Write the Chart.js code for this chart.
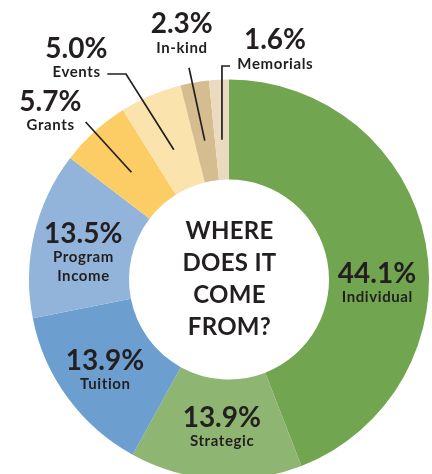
<!DOCTYPE html>
<html><head><meta charset="utf-8">
<script src="https://cdn.jsdelivr.net/npm/chart.js@4/dist/chart.umd.min.js"></script>
<style>html,body{margin:0;padding:0;background:#fff;overflow:hidden;width:432px;height:474px}canvas{display:block}</style>
</head><body>
<canvas id="c" width="432" height="480"></canvas>
<script>
// ---- data ----
const categories = ['Individual','Strategic','Tuition','Program Income','Grants','Events','In-kind','Memorials'];
const shares = [44.1, 13.9, 13.9, 13.5, 5.7, 5.0, 2.3, 1.6];
const percentLabels = ['44.1%','13.9%','13.9%','13.5%','5.7%','5.0%','2.3%','1.6%'];
const nameLines = [['Individual'],['Strategic'],['Tuition'],['Program','Income'],['Grants'],['Events'],['In-kind'],['Memorials']];
const sliceColors = ['#71a54f','#8eb572','#6c9fcf','#93b4da','#fdcd65','#fbe3ad','#d5bd90','#eadac0'];
const centerTitle = ['WHERE','DOES IT','COME','FROM?'];

// ---- label layout (relative to chart centre, in units of outer radius) ----
const labelLayout = [
  {pos:[0.74, 0.0175]},
  {pos:[-0.036, 0.736]},
  {pos:[-0.62, 0.4525]},
  {pos:[-0.729, -0.184]},
  {pos:[-0.8935, -0.8425], leader:[{mid:0.725},{mid:1.065}]},
  {pos:[-0.7635, -1.109], leader:[{mid:0.705},{x:-0.515,y:-1.0275},{x:-0.6085,y:-1.0275}]},
  {pos:[-0.2365, -1.231], leader:[{mid:0.705},{x:-0.20,y:-1.059}]},
  {pos:[0.23, -1.151], leader:[{mid:0.70},{y:-1.0675},{x:0.005,y:-1.0675}]}
];
const ink = '#231f20';
const FAM = 'Lato, "Open Sans", sans-serif';

const labelPlugin = {
  id: 'sliceLabels',
  afterDatasetsDraw(chart) {
    const ctx = chart.ctx;
    const arcs = chart.getDatasetMeta(0).data;
    const cx = arcs[0].x, cy = arcs[0].y, R = arcs[0].outerRadius;
    ctx.save();
    ctx.fillStyle = ink; ctx.strokeStyle = ink; ctx.lineWidth = 1.7;
    ctx.lineCap = 'butt'; ctx.lineJoin = 'miter';
    ctx.textAlign = 'center'; ctx.textBaseline = 'alphabetic';
    arcs.forEach((arc, i) => {
      const L = labelLayout[i];
      const px = cx + L.pos[0] * R, py = cy + L.pos[1] * R;
      ctx.letterSpacing = '0px';
      ctx.font = 'bold 28px ' + FAM;
      ctx.fillText(percentLabels[i], px, py);
      ctx.font = 'bold 15px ' + FAM;
      ctx.letterSpacing = '0.6px';
      nameLines[i].forEach((t, k) => ctx.fillText(t, px + 0.3, py + 19.3 + k * 19));
      if (L.leader) {
        const mid = (arc.startAngle + arc.endAngle) / 2;
        let prev = null;
        ctx.beginPath();
        L.leader.forEach((p, k) => {
          let x, y;
          if (p.mid !== undefined) { x = cx + Math.cos(mid) * p.mid * R; y = cy + Math.sin(mid) * p.mid * R; }
          else if (p.x === undefined) { x = prev[0]; y = cy + p.y * R; }
          else { x = cx + p.x * R; y = cy + p.y * R; }
          if (k === 0) ctx.moveTo(x, y); else ctx.lineTo(x, y);
          prev = [x, y];
        });
        ctx.stroke();
      }
    });
    ctx.letterSpacing = '0.3px';
    ctx.font = 'bold 24px ' + FAM;
    centerTitle.forEach((t, k) => ctx.fillText(t, cx + 0.5, cy - 40.2 + k * 31.8));
    ctx.restore();
  }
};

new Chart(document.getElementById('c'), {
  type: 'doughnut',
  data: {
    labels: categories,
    datasets: [{ data: shares, backgroundColor: sliceColors, borderWidth: 0 }]
  },
  options: {
    responsive: false,
    animation: false,
    cutout: '50%',
    layout: { padding: { left: 29, right: 3, top: 79.5, bottom: 0.5 } },
    plugins: { legend: { display: false }, tooltip: { enabled: false } }
  },
  plugins: [labelPlugin]
});
</script>
</body></html>
